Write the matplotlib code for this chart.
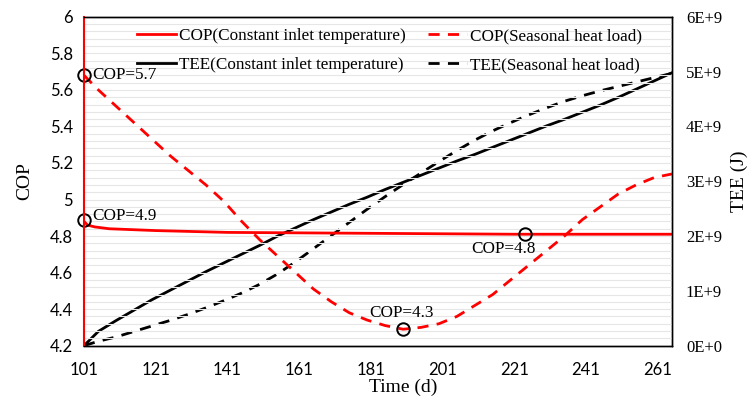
import matplotlib
matplotlib.use("Agg")
import matplotlib.pyplot as plt
from matplotlib.ticker import FuncFormatter, MultipleLocator
from matplotlib.lines import Line2D

# Tiempo (días)
days = [101, 105, 110, 115, 120, 125, 130, 135, 140, 145, 150, 155, 160, 165, 170,
        175, 180, 185, 190, 195, 200, 205, 210, 215, 220, 225, 230, 235, 240, 245,
        250, 255, 260, 265]

# COP con carga estacional
cop_seasonal = [5.68, 5.60, 5.51, 5.42, 5.33, 5.24, 5.16, 5.08, 4.99, 4.88, 4.78,
                4.69, 4.60, 4.51, 4.44, 4.38, 4.34, 4.31, 4.29, 4.30, 4.32, 4.36,
                4.42, 4.48, 4.56, 4.64, 4.72, 4.80, 4.89, 4.96, 5.03, 5.08, 5.12, 5.14]

# COP con temperatura constante (caída rápida al inicio)
days_const = [101, 102, 104, 108, 121, 141, 181, 221, 265]
cop_const = [4.88, 4.86, 4.85, 4.84, 4.83, 4.82, 4.815, 4.81, 4.81]

# TEE en unidades de 1E+9 J
tee_const = [0.00, 0.26, 0.46, 0.65, 0.84, 1.01, 1.18, 1.35, 1.51, 1.67, 1.83,
             2.00, 2.15, 2.30, 2.44, 2.58, 2.71, 2.85, 2.98, 3.11, 3.24, 3.37,
             3.49, 3.62, 3.75, 3.88, 4.01, 4.13, 4.26, 4.39, 4.53, 4.68, 4.83, 4.98]
tee_seasonal = [0.00, 0.08, 0.16, 0.26, 0.36, 0.46, 0.57, 0.69, 0.82, 0.96, 1.12,
                1.31, 1.53, 1.77, 2.01, 2.25, 2.49, 2.72, 2.94, 3.15, 3.36, 3.56,
                3.75, 3.92, 4.07, 4.21, 4.34, 4.46, 4.56, 4.65, 4.73, 4.81, 4.89, 4.97]

# puntos marcados
mark_days = [101, 101, 190, 224]
mark_cop = [5.68, 4.89, 4.29, 4.81]
mark_text = ["COP=5.7", "COP=4.9", "COP=4.3", "COP=4.8"]

serif = "Liberation Serif"
sans = "Lato"

fig = plt.figure(figsize=(7.5, 4.01), dpi=100)
ax = fig.add_subplot(111)
fig.subplots_adjust(left=0.112, right=0.896, top=0.958, bottom=0.138)
ax2 = ax.twinx()

ax.set_zorder(2)
ax.patch.set_visible(False)

ax.plot(days_const, cop_const, color="red", lw=2)
ax.plot(days, cop_seasonal, color="red", lw=2, ls=(0, (4, 3)))
ax2.plot(days, tee_const, color="black", lw=2)
ax2.plot(days, tee_seasonal, color="black", lw=2, ls=(0, (4, 3)))

ax.plot(mark_days, mark_cop, ls="none", marker="o", ms=9, mfc="none", mec="black", mew=1.4, clip_on=False)
ax.text(103.3, 5.68, mark_text[0], fontsize=12.3, family=serif, va="center", ha="left")
ax.text(103.3, 4.91, mark_text[1], fontsize=12.3, family=serif, va="center", ha="left")
ax.text(189.5, 4.38, mark_text[2], fontsize=12.3, family=serif, va="center", ha="center")
ax.text(218, 4.73, mark_text[3], fontsize=12.3, family=serif, va="center", ha="center")

ax.set_xlim(101, 265)
ax.set_ylim(4.2, 6)
ax2.set_ylim(0, 6)

ax.set_xticks(range(101, 262, 20))
ax.yaxis.set_major_locator(MultipleLocator(0.2))
ax.yaxis.set_major_formatter(FuncFormatter(lambda v, p: f"{v:g}"))
ax.yaxis.set_minor_locator(MultipleLocator(0.04))
ax2.yaxis.set_major_locator(MultipleLocator(1))
ax2.yaxis.set_major_formatter(FuncFormatter(lambda v, p: "0E+0" if v == 0 else f"{int(round(v))}E+9"))

ax2.grid(False)
ax.grid(True, which="both", axis="y", color="#e6e6e6", lw=0.8)
ax.set_axisbelow(True)

ax.tick_params(axis="both", which="both", length=0, labelsize=12)
ax.tick_params(axis="x", pad=12)
ax.tick_params(axis="y", pad=8)
for lab in ax.get_xticklabels() + ax.get_yticklabels():
    lab.set_family(sans)
ax2.tick_params(axis="y", length=0, labelsize=12, pad=10)
for lab in ax2.get_yticklabels():
    lab.set_family(serif)

for a in (ax, ax2):
    for s in a.spines.values():
        s.set_color("black")
        s.set_linewidth(1)
ax.spines["left"].set_color("red")
ax.spines["left"].set_linewidth(1.5)
ax2.spines["left"].set_visible(False)

ax.set_xlabel("Time (d)", fontsize=14, family=serif)
ax.xaxis.set_label_coords(0.543, -0.1)
ax.set_ylabel("COP", fontsize=14, family=serif, labelpad=12)
ax2.set_ylabel("TEE (J)", fontsize=14, family=serif, labelpad=6)

handles = [Line2D([], [], color="red", lw=2),
           Line2D([], [], color="black", lw=2),
           Line2D([], [], color="red", lw=2, ls=(0, (4, 3))),
           Line2D([], [], color="black", lw=2, ls=(0, (4, 3)))]
labels = ["COP(Constant inlet temperature)", "TEE(Constant inlet temperature)",
          "COP(Seasonal heat load)", "TEE(Seasonal heat load)"]
ax.legend(handles, labels, ncol=2, frameon=False, loc="upper left",
          bbox_to_anchor=(0.064, 1.012), prop={"family": serif, "size": 12.3},
          handlelength=2.3, handletextpad=0.15, columnspacing=1.3, labelspacing=0.75)

fig.savefig("out.png", dpi=100)
